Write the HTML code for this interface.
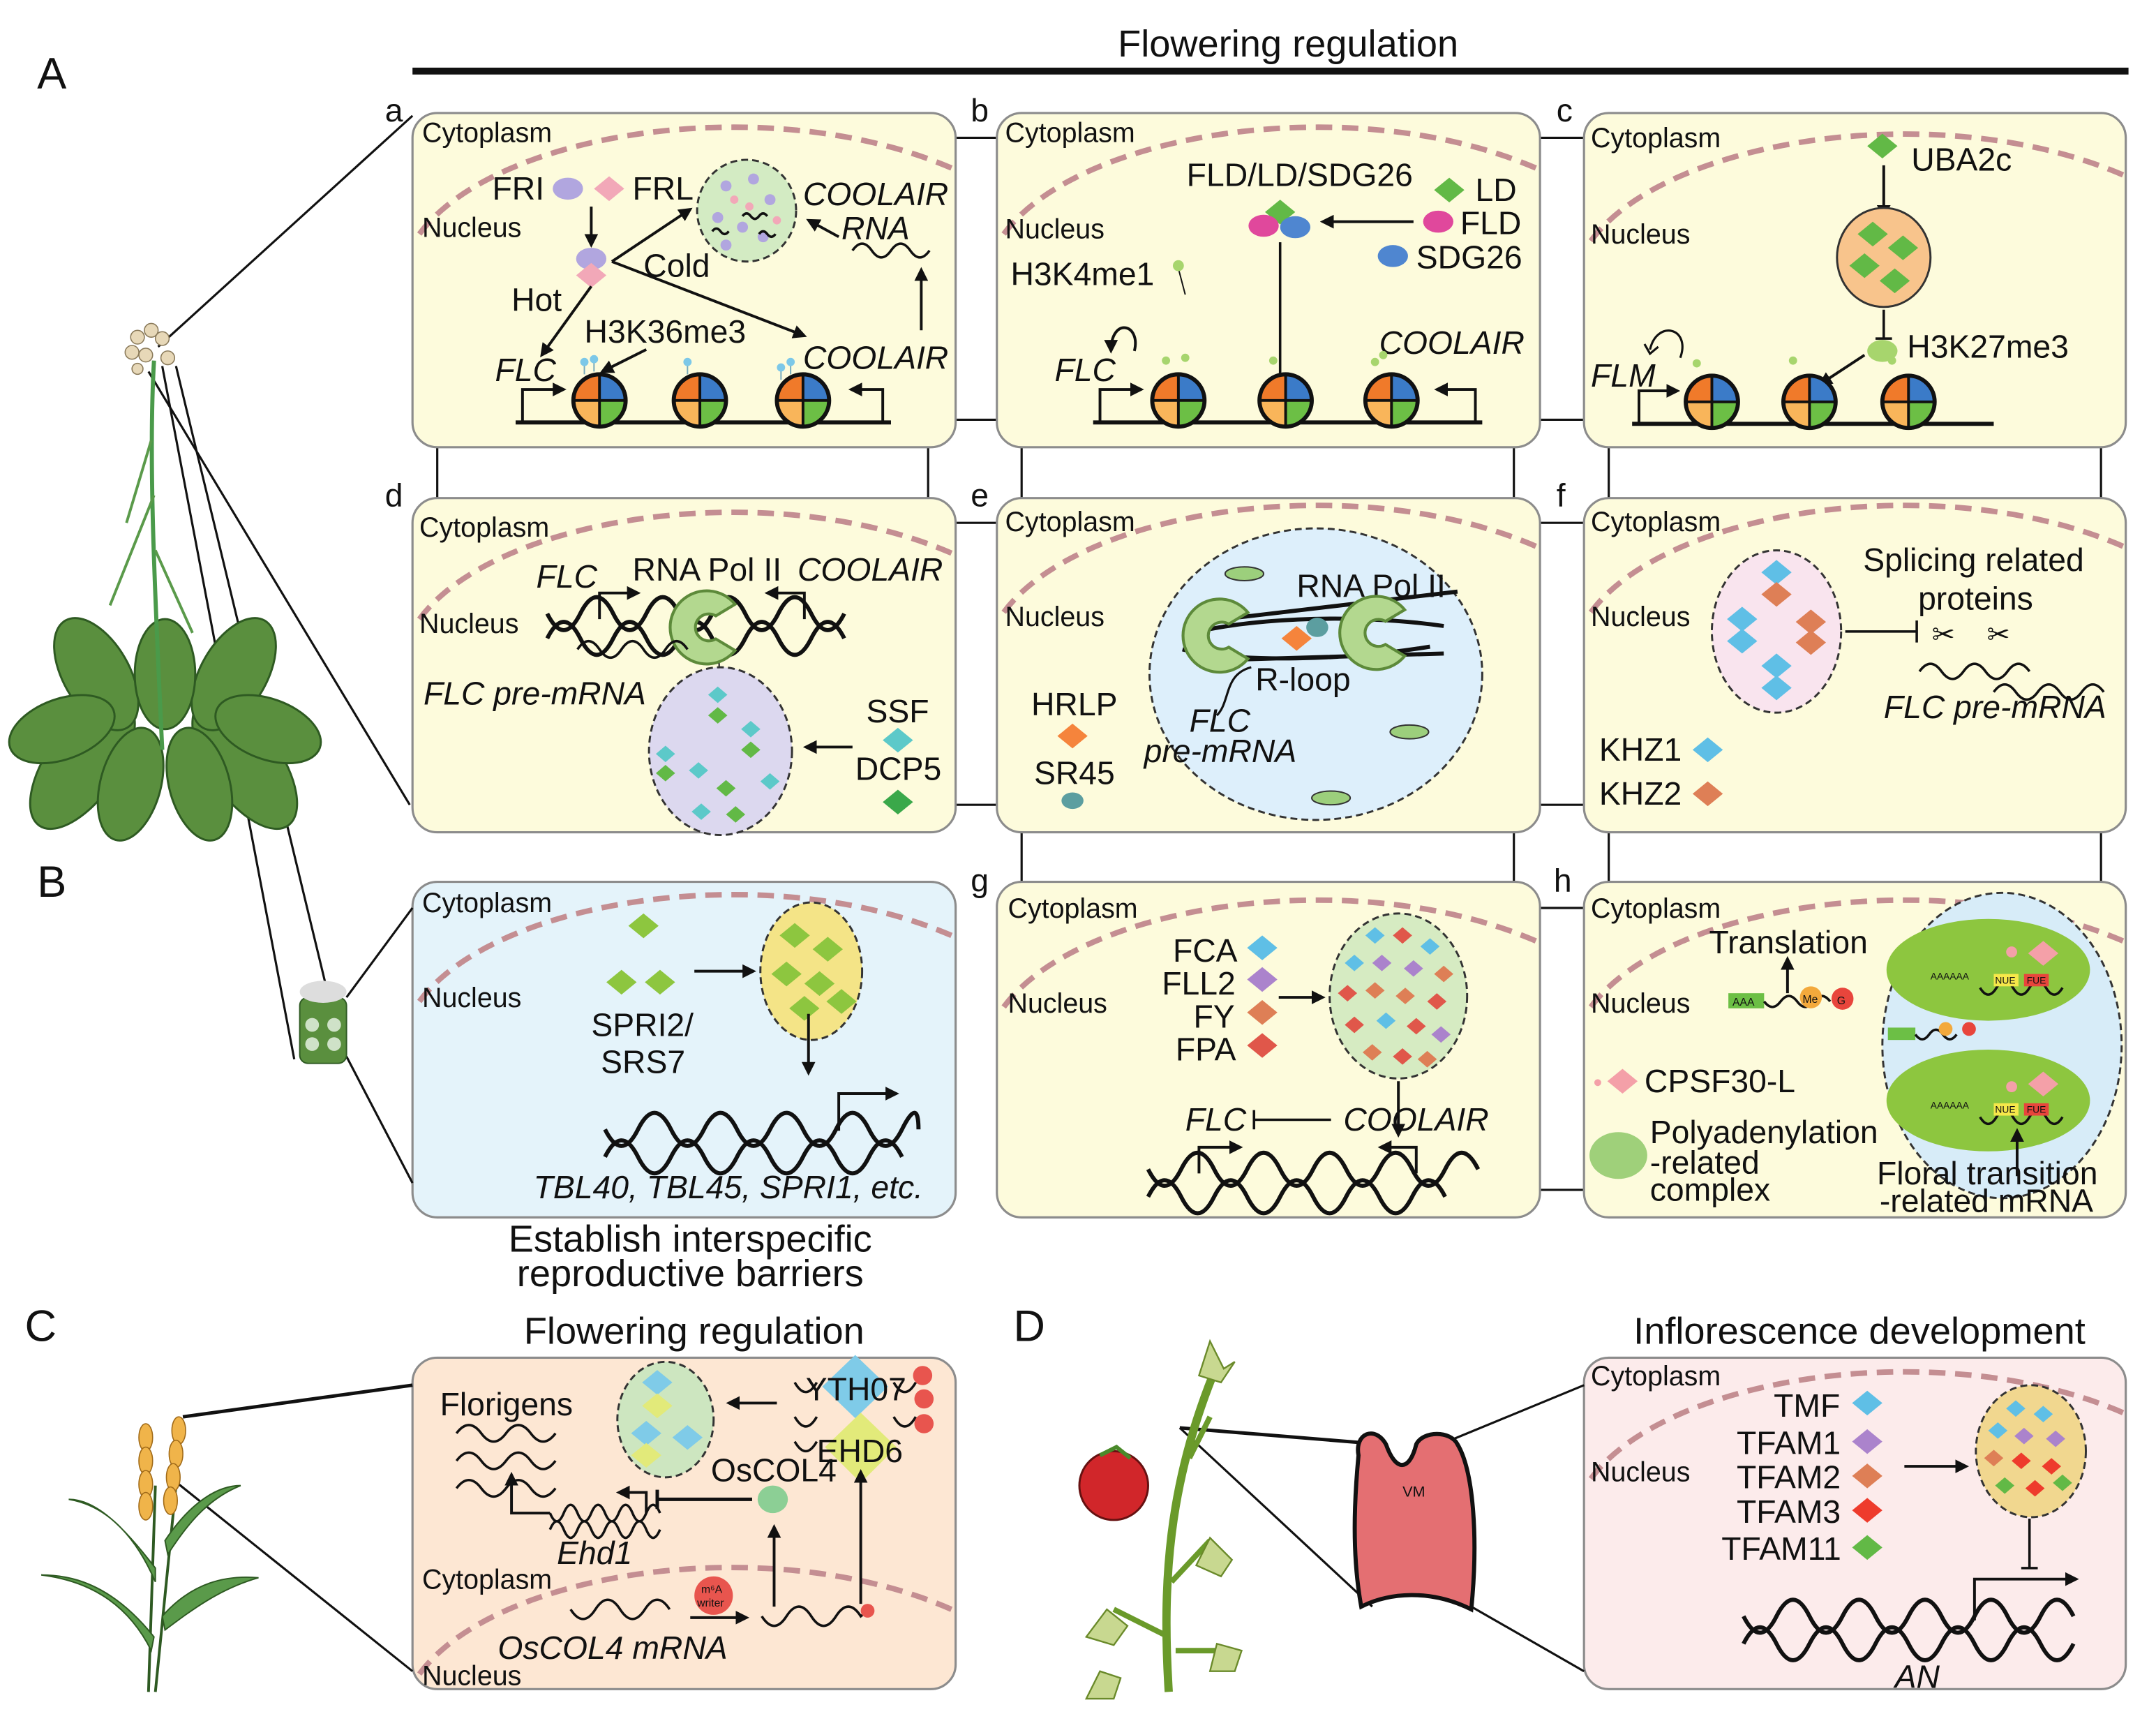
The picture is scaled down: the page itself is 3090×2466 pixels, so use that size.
<!DOCTYPE html>
<html><head><meta charset="utf-8"><style>
html,body{margin:0;padding:0;background:#fff}
svg{display:block}
text{font-family:"Liberation Sans",Arial,sans-serif;fill:#111}
.t{font-size:23.5px}.s{font-size:20px}.i{font-style:italic}.h{font-size:27.5px}.L{font-size:32px}
.pn{stroke:#8c8c8c;stroke-width:1.6}
.mem{fill:none;stroke:#c48e92;stroke-width:4;stroke-dasharray:12 7}
.ln{stroke:#111;stroke-width:1.6;fill:none}
.ar{stroke:#111;stroke-width:2;fill:none;marker-end:url(#ah)}
.w{fill:none;stroke:#111;stroke-width:1.8}
.dx{fill:none;stroke:#111;stroke-width:3}
.dr{stroke:#333;stroke-width:1.5;stroke-dasharray:5 3}
</style></head><body>
<svg width="3090" height="2466" viewBox="0 0 1568 1251" xmlns="http://www.w3.org/2000/svg">
<defs>
<marker id="ah" viewBox="0 0 10 10" refX="8" refY="5" markerWidth="5" markerHeight="5" orient="auto"><path d="M0,0 L10,5 L0,10 Z" fill="#111"/></marker>
<g id="nuc"><path d="M0,0 L0,-19 A19,19 0 0 0 -19,0 Z" fill="#f07a2a"/><path d="M0,0 L19,0 A19,19 0 0 0 0,-19 Z" fill="#3b7bc8"/><path d="M0,0 L-19,0 A19,19 0 0 0 0,19 Z" fill="#f9b55a"/><path d="M0,0 L0,19 A19,19 0 0 0 19,0 Z" fill="#6cbf45"/><circle r="19" fill="none" stroke="#111" stroke-width="3"/><path d="M0,-19V19M-19,0H19" stroke="#111" stroke-width="2"/></g>
<polygon id="dm" points="0,-9 11,0 0,9 -11,0"/>
<polygon id="dms" points="0,-6 7,0 0,6 -7,0"/>
<path id="pol" d="M14,-12 A19,19 0 1 0 14,12 L4,6 A7,7 0 1 1 4,-6 Z" fill="#b3d88f" stroke="#5d8a3a" stroke-width="1.5"/>
</defs>

<!-- Headers -->
<text x="813" y="41" class="h">Flowering regulation</text>
<rect x="300" y="49" width="1248" height="5" fill="#111"/>
<text x="27" y="64" class="L">A</text>
<text x="27" y="652" class="L">B</text>
<text x="18" y="975" class="L">C</text>
<text x="737" y="975" class="L">D</text>
<text x="381" y="977" class="h">Flowering regulation</text>
<text x="1188" y="977" class="h">Inflorescence development</text>
<text x="502" y="910" class="h" text-anchor="middle">Establish interspecific</text>
<text x="502" y="935" class="h" text-anchor="middle">reproductive barriers</text>

<!-- connectors between panels -->
<g class="ln" stroke-width="1.6">
<path d="M695,100H725M695,305H725M1120,100H1152M1120,305H1152"/>
<path d="M695,380H725M695,585H725M1120,380H1152M1120,585H1152"/>
<path d="M1120,660H1152M1120,865H1152"/>
<path d="M318,325V362M675,325V362M743,325V362M1101,325V362M1170,325V362M1528,325V362"/>
<path d="M743,605V641M1101,605V641M1170,605V641M1528,605V641"/>
</g>

<!-- panel backgrounds -->
<g class="pn">
<rect x="300" y="82" width="395" height="243" rx="18" fill="#fdfbdc"/>
<rect x="725" y="82" width="395" height="243" rx="18" fill="#fdfbdc"/>
<rect x="1152" y="82" width="394" height="243" rx="18" fill="#fdfbdc"/>
<rect x="300" y="362" width="395" height="243" rx="18" fill="#fdfbdc"/>
<rect x="725" y="362" width="395" height="243" rx="18" fill="#fdfbdc"/>
<rect x="1152" y="362" width="394" height="243" rx="18" fill="#fdfbdc"/>
<rect x="300" y="641" width="395" height="244" rx="18" fill="#e4f3fa"/>
<rect x="725" y="641" width="395" height="244" rx="18" fill="#fdfbdc"/>
<rect x="1152" y="641" width="394" height="244" rx="18" fill="#fdfbdc"/>
<rect x="300" y="987" width="395" height="241" rx="18" fill="#fde7d3"/>
<rect x="1152" y="987" width="394" height="241" rx="18" fill="#fcebeb"/>
</g>
<g class="t">
<text x="280" y="88">a</text><text x="706" y="88">b</text><text x="1132" y="88">c</text>
<text x="280" y="368">d</text><text x="706" y="368">e</text><text x="1132" y="368">f</text>
<text x="706" y="648">g</text><text x="1130" y="648">h</text>
</g>

<!-- membranes -->
<g class="mem">
<path d="M305,170 C360,95 560,65 692,122"/>
<path d="M730,170 C785,95 985,65 1117,122"/>
<path d="M1157,175 C1212,100 1412,70 1544,127"/>
<path d="M305,450 C360,375 560,345 692,402"/>
<path d="M730,445 C785,370 985,340 1117,397"/>
<path d="M1157,445 C1212,370 1412,340 1544,397"/>
<path d="M305,728 C360,653 560,623 692,680"/>
<path d="M730,732 C785,657 985,627 1117,684"/>
<path d="M1157,732 C1212,657 1412,627 1544,684"/>
<path d="M1157,1075 C1212,1000 1412,970 1544,1027"/>
<path d="M305,1217 C360,1142 560,1112 692,1170"/>
</g>
<g class="s">
<text x="307" y="103">Cytoplasm</text><text x="307" y="172">Nucleus</text>
<text x="731" y="103">Cytoplasm</text><text x="731" y="173">Nucleus</text>
<text x="1157" y="107">Cytoplasm</text><text x="1157" y="177">Nucleus</text>
<text x="305" y="390">Cytoplasm</text><text x="305" y="460">Nucleus</text>
<text x="731" y="386">Cytoplasm</text><text x="731" y="455">Nucleus</text>
<text x="1157" y="386">Cytoplasm</text><text x="1157" y="455">Nucleus</text>
<text x="307" y="663">Cytoplasm</text><text x="307" y="732">Nucleus</text>
<text x="733" y="667">Cytoplasm</text><text x="733" y="736">Nucleus</text>
<text x="1157" y="667">Cytoplasm</text><text x="1157" y="736">Nucleus</text>
<text x="1157" y="1007">Cytoplasm</text><text x="1157" y="1077">Nucleus</text>
<text x="307" y="1155">Cytoplasm</text><text x="307" y="1225">Nucleus</text>
</g>

<!-- ===== Panel a ===== -->
<ellipse cx="413" cy="137" rx="11" ry="8" fill="#b1a6df"/>
<use href="#dm" x="443" y="137" fill="#f2a8b8"/>
<text x="358" y="145" class="t">FRI</text><text x="460" y="145" class="t">FRL</text>
<ellipse cx="543" cy="153" rx="36" ry="37" fill="#d3ebc3" class="dr"/>
<g fill="#b1a6df"><circle cx="528" cy="135" r="4"/><circle cx="548" cy="130" r="4"/><circle cx="560" cy="145" r="4"/><circle cx="522" cy="158" r="4"/><circle cx="540" cy="165" r="4"/><circle cx="555" cy="172" r="4"/><circle cx="528" cy="178" r="4"/></g>
<g fill="#f2a8b8"><circle cx="534" cy="145" r="3"/><circle cx="565" cy="160" r="3"/><circle cx="545" cy="150" r="3"/></g>
<path class="w" stroke-width="1" d="M540,157 q3,-4 6,0 t6,0 t6,0 M552,170 q3,-4 6,0 t6,0 M518,168 q3,-4 6,0 t6,0"/>
<text x="584" y="149" class="t i">COOLAIR</text><text x="612" y="174" class="t i">RNA</text>
<path class="w" d="M620,182 q7,-10 14,0 t14,0 t14,0 t14,0"/>
<path class="ar" d="M670,240 V196"/>
<path class="ar" d="M610,172 L588,160"/>
<path class="ar" d="M430,150 V178"/>
<ellipse cx="430" cy="188" rx="11" ry="8" fill="#b1a6df"/><use href="#dm" x="430" y="200" fill="#f2a8b8"/>
<text x="468" y="201" class="t">Cold</text><text x="372" y="226" class="t">Hot</text>
<path class="ar" d="M445,190 L502,152"/><path class="ar" d="M445,190 L585,244"/>
<path class="ar" d="M430,208 L394,258"/>
<text x="425" y="249" class="t">H3K36me3</text>
<path class="ar" d="M470,254 L438,270"/>
<text x="360" y="277" class="t i">FLC</text><text x="584" y="268" class="t i">COOLAIR</text>
<path d="M375,307H648" stroke="#111" stroke-width="3"/>
<path class="ar" stroke-width="2.5" d="M380,307V283H410"/><path class="ar" stroke-width="2.5" d="M642,307V283H619"/>
<g stroke="#7ab" stroke-width="1"><path d="M425,272 v-8M432,270 v-8M500,272 v-8M575,272 v-8M568,276 v-8"/></g>
<g fill="#7cc8e8"><circle cx="425" cy="263" r="3"/><circle cx="432" cy="261" r="3"/><circle cx="500" cy="263" r="3"/><circle cx="575" cy="263" r="3"/><circle cx="568" cy="267" r="3"/></g>
<use href="#nuc" x="436" y="291"/><use href="#nuc" x="509" y="291"/><use href="#nuc" x="584" y="291"/>

<!-- ===== Panel b ===== -->
<text x="863" y="135" class="t">FLD/LD/SDG26</text>
<use href="#dm" x="1054" y="138" fill="#62b946"/><text x="1073" y="146" class="t">LD</text>
<ellipse cx="1046" cy="161" rx="11" ry="8" fill="#e0489c"/><text x="1062" y="170" class="t">FLD</text>
<ellipse cx="1013" cy="186" rx="11" ry="8" fill="#4f86d0"/><text x="1030" y="195" class="t">SDG26</text>
<use href="#dm" x="931" y="154" fill="#62b946"/>
<ellipse cx="919" cy="164" rx="11" ry="8" fill="#e0489c"/><ellipse cx="942" cy="165" rx="11" ry="8" fill="#4f86d0"/>
<path class="ar" stroke-width="2.5" d="M1028,161 H962"/>
<text x="735" y="207" class="t">H3K4me1</text>
<path d="M857,195 L862,214" stroke="#111" stroke-width="1"/><circle cx="857" cy="193" r="4" fill="#a7d56d"/>
<path d="M931,176V284M925,284H937" stroke="#111" stroke-width="1.8"/>
<text x="767" y="277" class="t i">FLC</text><text x="1003" y="257" class="t i">COOLAIR</text>
<path class="ar" d="M825,255 C830,235 808,230 808,255"/>
<path d="M795,307H1078" stroke="#111" stroke-width="3"/>
<path class="ar" stroke-width="2.5" d="M800,307V283H830"/><path class="ar" stroke-width="2.5" d="M1073,307V283H1045"/>
<g fill="#a7d56d"><circle cx="848" cy="262" r="3"/><circle cx="862" cy="260" r="3"/><circle cx="926" cy="262" r="3"/><circle cx="1000" cy="263" r="3"/><circle cx="1006" cy="258" r="3"/></g>
<use href="#nuc" x="857" y="291"/><use href="#nuc" x="935" y="291"/><use href="#nuc" x="1012" y="291"/>

<!-- ===== Panel c ===== -->
<use href="#dm" x="1369" y="106" fill="#62b946"/><text x="1390" y="124" class="t">UBA2c</text>
<path class="ar" d="M1370,120V157"/>
<ellipse cx="1370" cy="187" rx="34" ry="36" fill="#f8c48c" stroke="#333" stroke-width="1.5"/>
<g fill="#62b946"><use href="#dm" x="1362" y="170"/><use href="#dm" x="1384" y="180"/><use href="#dm" x="1356" y="193"/><use href="#dm" x="1378" y="204"/></g>
<path d="M1370,225V246M1364,246H1376" stroke="#111" stroke-width="1.8"/>
<ellipse cx="1369" cy="255" rx="11" ry="8" fill="#a7d56d"/><text x="1387" y="260" class="t">H3K27me3</text>
<path class="ar" d="M1356,258 L1324,279"/>
<text x="1157" y="281" class="t i">FLM</text>
<path d="M1222,260 C1230,238 1205,232 1200,254 M1196,250 L1200,257 L1206,252" class="ln"/>
<path d="M1187,308H1450" stroke="#111" stroke-width="3"/>
<path class="ar" stroke-width="2.5" d="M1192,308V284H1220"/>
<g fill="#a7d56d"><circle cx="1234" cy="264" r="3"/><circle cx="1304" cy="262" r="3"/><circle cx="1376" cy="262" r="3"/></g>
<use href="#nuc" x="1245" y="292"/><use href="#nuc" x="1316" y="292"/><use href="#nuc" x="1388" y="292"/>

<!-- ===== Panel d ===== -->
<text x="390" y="427" class="t i">FLC</text><text x="460" y="422" class="t">RNA Pol II</text><text x="580" y="422" class="t i">COOLAIR</text>
<path class="ar" stroke-width="2" d="M436,450V431H464"/><path class="ar" stroke-width="2" d="M585,450V431H558"/>
<path class="dx" d="M398,446 q12,24 24,0 t24,0 t24,0 t24,0 t24,0 t24,0 t24,0 t24,0 t24,0"/>
<path class="dx" d="M398,464 q12,-24 24,0 t24,0 t24,0 t24,0 t24,0 t24,0 t24,0 t24,0 t24,0"/>
<use href="#pol" transform="translate(515,456) scale(1.4)"/>
<path class="w" d="M420,472 q8,-12 16,0 t16,0 t16,0 t16,0 t16,0"/>
<text x="308" y="512" class="t i">FLC pre-mRNA</text>
<path d="M523,482V488" stroke="#111"/>
<ellipse cx="524" cy="546" rx="52" ry="61" fill="#dcd8ef" class="dr"/>
<g><use href="#dms" x="522" y="505" fill="#5cc9c9"/><use href="#dms" x="522" y="520" fill="#62b946"/><use href="#dms" x="546" y="530" fill="#5cc9c9"/><use href="#dms" x="546" y="545" fill="#62b946"/><use href="#dms" x="484" y="548" fill="#5cc9c9"/><use href="#dms" x="484" y="562" fill="#62b946"/><use href="#dms" x="508" y="560" fill="#5cc9c9"/><use href="#dms" x="528" y="573" fill="#62b946"/><use href="#dms" x="560" y="568" fill="#5cc9c9"/><use href="#dms" x="510" y="590" fill="#5cc9c9"/><use href="#dms" x="535" y="592" fill="#62b946"/></g>
<text x="630" y="525" class="t">SSF</text><use href="#dm" x="653" y="538" fill="#5cc9c9"/>
<text x="622" y="567" class="t">DCP5</text><use href="#dm" x="653" y="583" fill="#3aa84a"/>
<path class="ar" stroke-width="2.5" d="M620,543H586"/>

<!-- ===== Panel e ===== -->
<ellipse cx="957" cy="490" rx="121" ry="106" fill="#ddeffb" class="dr"/>
<text x="943" y="434" class="t">RNA Pol II</text>
<path d="M860,462 C900,450 980,445 1050,455 M860,472 C900,482 980,480 1040,470 M890,450 L1060,430 M880,480 L1050,475" stroke="#111" stroke-width="3" fill="none"/>
<use href="#pol" transform="translate(888,462) scale(1.4)"/>
<use href="#pol" transform="translate(1002,460) scale(1.4)"/>
<use href="#dm" x="943" y="464" fill="#f5843c"/><ellipse cx="958" cy="456" rx="8" ry="7" fill="#5c9ea0"/>
<text x="913" y="502" class="t">R-loop</text>
<path class="ln" d="M910,485 C890,490 895,510 885,520"/>
<text x="865" y="532" class="t i">FLC</text><text x="832" y="554" class="t i">pre-mRNA</text>
<g fill="#9ccf7c" stroke="#333" stroke-width="1"><ellipse cx="905" cy="417" rx="14" ry="5"/><ellipse cx="1025" cy="532" rx="14" ry="5"/><ellipse cx="968" cy="580" rx="14" ry="5"/></g>
<text x="750" y="520" class="t">HRLP</text><use href="#dm" x="780" y="535" fill="#f5843c"/>
<text x="752" y="570" class="t">SR45</text><ellipse cx="780" cy="582" rx="8" ry="6" fill="#5c9ea0"/>

<!-- ===== Panel f ===== -->
<ellipse cx="1292" cy="459" rx="47" ry="59" fill="#f9e4ee" class="dr"/>
<g><use href="#dm" x="1292" y="416" fill="#5fbfe6"/><use href="#dm" x="1292" y="432" fill="#de7f56"/><use href="#dm" x="1267" y="450" fill="#5fbfe6"/><use href="#dm" x="1317" y="452" fill="#de7f56"/><use href="#dm" x="1267" y="466" fill="#5fbfe6"/><use href="#dm" x="1317" y="467" fill="#de7f56"/><use href="#dm" x="1292" y="484" fill="#5fbfe6"/><use href="#dm" x="1292" y="500" fill="#5fbfe6"/></g>
<text x="1355" y="415" class="t">Splicing related</text><text x="1395" y="443" class="t">proteins</text>
<path d="M1342,459H1394M1394,451V467" stroke="#111" stroke-width="1.8"/>
<text x="1405" y="468" style="font-size:20px">✂</text><text x="1445" y="468" style="font-size:20px">✂</text>
<path class="w" d="M1396,488 q8,-11 16,0 t16,0 t16,0 t16,0 t16,0 M1450,503 q8,-11 16,0 t16,0 t16,0 t16,0 t16,0"/>
<text x="1370" y="522" class="t i">FLC pre-mRNA</text>
<text x="1163" y="553" class="t">KHZ1</text><use href="#dm" x="1242" y="545" fill="#5fbfe6"/>
<text x="1163" y="585" class="t">KHZ2</text><use href="#dm" x="1242" y="577" fill="#de7f56"/>

<!-- ===== Panel B ===== -->
<g fill="#8dc63f"><use href="#dm" x="468" y="673"/><use href="#dm" x="452" y="714"/><use href="#dm" x="480" y="714"/></g>
<path class="ar" stroke-width="2.5" d="M505,706H548"/>
<ellipse cx="590" cy="706" rx="37" ry="50" fill="#f4e487" class="dr"/>
<g fill="#8dc63f"><use href="#dm" x="578" y="680"/><use href="#dm" x="602" y="690"/><use href="#dm" x="572" y="708"/><use href="#dm" x="596" y="715"/><use href="#dm" x="612" y="728"/><use href="#dm" x="585" y="733"/></g>
<text x="430" y="753" class="t">SPRI2/</text><text x="437" y="780" class="t">SRS7</text>
<path class="ar" d="M588,737V780"/>
<path class="dx" d="M440,821 q12,24 24,0 t24,0 t24,0 t24,0 t24,0 t24,0 t24,0 t24,0 t24,0 t12,0"/>
<path class="dx" d="M440,841 q12,-24 24,0 t24,0 t24,0 t24,0 t24,0 t24,0 t24,0 t24,0 t24,0"/>
<path class="ar" stroke-width="2.5" d="M610,822V795H652"/>
<text x="388" y="871" class="t i">TBL40, TBL45, SPRI1, etc.</text>

<!-- ===== Panel g ===== -->
<text x="853" y="699" class="t">FCA</text><use href="#dm" x="918" y="689" fill="#5fbfe6"/>
<text x="845" y="723" class="t">FLL2</text><use href="#dm" x="918" y="712" fill="#ab83cc"/>
<text x="868" y="747" class="t">FY</text><use href="#dm" x="918" y="736" fill="#de7f56"/>
<text x="855" y="771" class="t">FPA</text><use href="#dm" x="918" y="760" fill="#e0574a"/>
<path class="ar" stroke-width="2.5" d="M930,725H962"/>
<ellipse cx="1017" cy="724" rx="50" ry="60" fill="#d6ebc2" class="dr"/>
<g>
<use href="#dms" x="1000" y="680" fill="#5fbfe6"/><use href="#dms" x="1020" y="680" fill="#e0574a"/><use href="#dms" x="1040" y="688" fill="#5fbfe6"/>
<use href="#dms" x="985" y="700" fill="#5fbfe6"/><use href="#dms" x="1005" y="700" fill="#ab83cc"/><use href="#dms" x="1028" y="704" fill="#ab83cc"/><use href="#dms" x="1050" y="708" fill="#de7f56"/>
<use href="#dms" x="980" y="722" fill="#e0574a"/><use href="#dms" x="1000" y="720" fill="#de7f56"/><use href="#dms" x="1022" y="724" fill="#de7f56"/><use href="#dms" x="1045" y="728" fill="#e0574a"/>
<use href="#dms" x="985" y="745" fill="#e0574a"/><use href="#dms" x="1008" y="742" fill="#5fbfe6"/><use href="#dms" x="1030" y="746" fill="#e0574a"/><use href="#dms" x="1048" y="752" fill="#ab83cc"/>
<use href="#dms" x="998" y="765" fill="#de7f56"/><use href="#dms" x="1020" y="768" fill="#e0574a"/><use href="#dms" x="1038" y="770" fill="#de7f56"/>
</g>
<path class="ar" d="M1017,786V825"/>
<text x="862" y="822" class="t i">FLC</text><path d="M912,814H968M912,807V821" stroke="#111" stroke-width="1.8"/><text x="977" y="822" class="t i">COOLAIR</text>
<path class="ar" stroke-width="2" d="M872,853V834H902"/><path class="ar" stroke-width="2" d="M1030,853V834H1004"/>
<path class="dx" d="M835,850 q12,24 24,0 t24,0 t24,0 t24,0 t24,0 t24,0 t24,0 t24,0 t24,0 t24,0"/>
<path class="dx" d="M835,870 q12,-24 24,0 t24,0 t24,0 t24,0 t24,0 t24,0 t24,0 t24,0 t24,0"/>

<!-- ===== Panel h ===== -->
<text x="1243" y="693" class="t">Translation</text>
<path class="ar" d="M1300,722V697"/>
<rect x="1257" y="722" width="26" height="11" fill="#6cbf45"/><text x="1260" y="731" style="font-size:8px">AAA</text>
<path class="w" d="M1283,728 q6,8 12,0 t12,0 t12,0 t12,0"/>
<circle cx="1317" cy="725" r="8" fill="#f3a93c"/><text x="1311" y="729" style="font-size:8px">Me</text>
<circle cx="1340" cy="726" r="8" fill="#e8453c"/><text x="1336" y="730" style="font-size:8px">G</text>
<ellipse cx="1456" cy="760" rx="87" ry="111" fill="#d7ecf8" class="dr"/>
<ellipse cx="1446" cy="705" rx="74" ry="37" fill="#8dc63f"/>
<ellipse cx="1446" cy="800" rx="74" ry="37" fill="#8dc63f"/>
<g class="w" stroke-width="1.5"><path d="M1440,718 q6,10 12,0 t12,0 t12,0 t12,0 t12,0"/><path d="M1440,812 q6,10 12,0 t12,0 t12,0 t12,0 t12,0"/></g>
<g style="font-size:7px"><rect x="1450" y="708" width="18" height="9" fill="#f6e84a"/><text x="1451" y="715">NUE</text><rect x="1472" y="708" width="18" height="9" fill="#e8453c"/><text x="1474" y="715">FUE</text>
<rect x="1450" y="802" width="18" height="9" fill="#f6e84a"/><text x="1451" y="809">NUE</text><rect x="1472" y="802" width="18" height="9" fill="#e8453c"/><text x="1474" y="809">FUE</text>
<text x="1404" y="712">AAAAAA</text><text x="1404" y="806">AAAAAA</text></g>
<use href="#dm" x="1486" y="693" fill="#f4a0a8"/><circle cx="1463" cy="692" r="4" fill="#f4a0a8"/>
<use href="#dm" x="1486" y="788" fill="#f4a0a8"/><circle cx="1463" cy="790" r="4" fill="#f4a0a8"/>
<rect x="1373" y="747" width="20" height="9" fill="#6cbf45"/><path class="w" stroke-width="1.2" d="M1393,752 q5,7 10,0 t10,0 t10,0"/>
<circle cx="1415" cy="748" r="5" fill="#f3a93c"/><circle cx="1432" cy="748" r="5" fill="#e8453c"/>
<path class="ar" d="M1467,855V822"/>
<circle cx="1162" cy="787" r="2.5" fill="#f4a0a8"/><use href="#dm" x="1180" y="786" fill="#f4a0a8"/>
<text x="1196" y="794" class="t">CPSF30-L</text>
<ellipse cx="1177" cy="840" rx="21" ry="17" fill="#9fd07a"/>
<text x="1200" y="831" class="t">Polyadenylation</text><text x="1200" y="853" class="t">-related</text><text x="1200" y="873" class="t">complex</text>
<text x="1365" y="861" class="t">Floral transition</text><text x="1367" y="881" class="t">-related mRNA</text>

<!-- ===== Panel C ===== -->
<text x="320" y="1029" class="t">Florigens</text>
<path class="w" d="M332,1042 q9,-12 18,0 t18,0 t18,0 t18,0 M332,1062 q9,-12 18,0 t18,0 t18,0 t18,0 M332,1082 q9,-12 18,0 t18,0 t18,0 t18,0"/>
<ellipse cx="484" cy="1032" rx="35" ry="42" fill="#cde6c0" class="dr"/>
<g><use href="#dm" x="478" y="1005" fill="#7fcbe8"/><use href="#dm" x="478" y="1022" fill="#e2ea7a"/><use href="#dm" x="470" y="1042" fill="#7fcbe8"/><use href="#dm" x="470" y="1058" fill="#e2ea7a"/><use href="#dm" x="500" y="1045" fill="#7fcbe8"/></g>
<path class="ar" stroke-width="2.5" d="M565,1020H530"/>
<polygon points="622,985 646,1008 622,1031 598,1008" fill="#7fcbe8"/>
<polygon points="626,1027 652,1052 626,1078 600,1052" fill="#e2ea7a"/>
<path class="w" d="M578,1005 q8,14 16,0 M578,1030 q8,14 16,0 M578,1048 q8,14 16,0 M650,1005 q8,14 16,0 M650,1030 q8,14 16,0"/>
<text x="586" y="1018" class="t">YTH07</text><text x="594" y="1063" class="t">EHD6</text>
<g fill="#e8554e"><circle cx="671" cy="1000" r="7"/><circle cx="672" cy="1017" r="7"/><circle cx="672" cy="1035" r="7"/></g>
<text x="517" y="1077" class="t">OsCOL4</text>
<ellipse cx="562" cy="1090" rx="11" ry="10" fill="#8ccf95"/>
<path d="M547,1090H478M478,1083V1097" stroke="#111" stroke-width="2.5"/>
<path class="ar" stroke-width="2.5" d="M470,1100V1085H450"/>
<path class="ar" stroke-width="2.5" d="M400,1100H372V1072"/>
<path class="w" stroke-width="1.5" d="M400,1100 q5,12 10,0 t10,0 t10,0 t10,0 t10,0 t10,0 t10,0 t10,0 M400,1112 q5,-12 10,0 t10,0 t10,0 t10,0 t10,0 t10,0 t10,0 t10,0"/>
<text x="405" y="1137" class="t i">Ehd1</text>
<circle cx="519" cy="1160" r="14" fill="#e8554e"/><text x="510" y="1158" style="font-size:8px">m⁶A</text><text x="507" y="1168" style="font-size:8px">writer</text>
<path class="w" d="M415,1170 q9,14 18,0 t18,0 t18,0 t18,0"/>
<path class="ar" stroke-width="2.5" d="M502,1176H543"/>
<path class="w" d="M554,1175 q9,14 18,0 t18,0 t18,0 t18,0 L630,1172"/>
<circle cx="631" cy="1171" r="5" fill="#e8554e"/>
<path class="ar" d="M563,1168V1110"/><path class="ar" d="M626,1166V1070"/>
<text x="362" y="1206" class="t i">OsCOL4 mRNA</text>

<!-- ===== Panel D ===== -->
<text x="1290" y="1030" class="t">TMF</text><use href="#dm" x="1358" y="1020" fill="#5fbfe6"/>
<text x="1263" y="1057" class="t">TFAM1</text><use href="#dm" x="1358" y="1048" fill="#ab83cc"/>
<text x="1263" y="1082" class="t">TFAM2</text><use href="#dm" x="1358" y="1073" fill="#de7f56"/>
<text x="1263" y="1107" class="t">TFAM3</text><use href="#dm" x="1358" y="1098" fill="#ee3b2c"/>
<text x="1252" y="1134" class="t">TFAM11</text><use href="#dm" x="1358" y="1125" fill="#62b946"/>
<path class="ar" stroke-width="2.5" d="M1385,1066H1430"/>
<ellipse cx="1477" cy="1055" rx="40" ry="48" fill="#f1d78f" class="dr"/>
<g><use href="#dms" x="1466" y="1024" fill="#5fbfe6"/><use href="#dms" x="1486" y="1028" fill="#5fbfe6"/><use href="#dms" x="1453" y="1040" fill="#5fbfe6"/><use href="#dms" x="1472" y="1044" fill="#ab83cc"/><use href="#dms" x="1495" y="1046" fill="#ab83cc"/><use href="#dms" x="1450" y="1060" fill="#de7f56"/><use href="#dms" x="1470" y="1062" fill="#ee3b2c"/><use href="#dms" x="1492" y="1066" fill="#ee3b2c"/><use href="#dms" x="1458" y="1080" fill="#62b946"/><use href="#dms" x="1480" y="1082" fill="#ee3b2c"/><use href="#dms" x="1500" y="1078" fill="#62b946"/></g>
<path d="M1476,1104V1140M1470,1140H1482" stroke="#111" stroke-width="1.8"/>
<path class="ar" stroke-width="2.5" d="M1436,1178V1148H1510"/>
<path class="dx" d="M1268,1175 q12,24 24,0 t24,0 t24,0 t24,0 t24,0 t24,0 t24,0 t24,0 t24,0 t24,0"/>
<path class="dx" d="M1268,1195 q12,-24 24,0 t24,0 t24,0 t24,0 t24,0 t24,0 t24,0 t24,0 t24,0 t24,0"/>
<text x="1378" y="1227" class="t i">AN</text>

<!-- ===== Arabidopsis plant ===== -->
<g class="ln" stroke-width="1.4">
<path d="M115,252 L300,84"/>
<path d="M108,270 L298,585"/>
<path d="M118,266 L214,770"/>
<path d="M128,266 L250,770"/>
<path d="M252,725 L300,660"/>
<path d="M252,768 L300,860"/>
</g>
<g fill="#5a8f3e" stroke="#2e5a22" stroke-width="1.5">
<ellipse cx="60" cy="555" rx="55" ry="26" transform="rotate(-55 60 555)"/>
<ellipse cx="178" cy="555" rx="55" ry="26" transform="rotate(55 178 555)"/>
<ellipse cx="70" cy="490" rx="45" ry="24" transform="rotate(60 70 490)"/>
<ellipse cx="170" cy="490" rx="45" ry="24" transform="rotate(-60 170 490)"/>
<ellipse cx="45" cy="530" rx="40" ry="22" transform="rotate(-20 45 530)"/>
<ellipse cx="195" cy="530" rx="40" ry="22" transform="rotate(20 195 530)"/>
<ellipse cx="95" cy="570" rx="42" ry="22" transform="rotate(-75 95 570)"/>
<ellipse cx="145" cy="570" rx="42" ry="22" transform="rotate(75 145 570)"/>
<ellipse cx="120" cy="490" rx="22" ry="40"/>
</g>
<path d="M112,262 C108,330 112,420 118,545" stroke="#4a9a4a" stroke-width="3" fill="none"/>
<path d="M110,320 L92,380 M112,360 L80,440 M113,400 L140,460" stroke="#5a9a4a" stroke-width="2" fill="none"/>
<g fill="#e7d8b8" stroke="#8a7a5a" stroke-width="0.8"><circle cx="100" cy="245" r="5"/><circle cx="110" cy="240" r="5"/><circle cx="118" cy="246" r="5"/><circle cx="96" cy="256" r="5"/><circle cx="106" cy="258" r="5"/><circle cx="122" cy="260" r="5"/><circle cx="100" cy="268" r="4"/></g>
<!-- B flower icon -->
<g transform="translate(235,745)">
<rect x="-17" y="-20" width="34" height="48" rx="6" fill="#5a8f3e" stroke="#2e5a22"/>
<ellipse cx="0" cy="-24" rx="17" ry="8" fill="#ddd"/>
<circle cx="-8" cy="0" r="5" fill="#cfe2c8"/><circle cx="8" cy="0" r="5" fill="#cfe2c8"/><circle cx="-8" cy="14" r="5" fill="#cfe2c8"/><circle cx="8" cy="14" r="5" fill="#cfe2c8"/>
</g>

<!-- ===== Rice ===== -->
<g class="ln" stroke-width="1.4"><path d="M133,1030 L300,1007" stroke-width="2.5"/><path d="M125,1075 L300,1215"/></g>
<path d="M108,1230 L113,1080 M113,1230 L128,1080" stroke="#2e5a22" stroke-width="2" fill="none"/>
<g fill="#5a9a4a" stroke="#2e5a22" stroke-width="1"><path d="M113,1140 C90,1110 70,1090 50,1090 C80,1095 100,1120 113,1150Z"/><path d="M120,1120 C140,1090 160,1080 175,1080 C150,1090 135,1110 122,1130Z"/><path d="M112,1190 C80,1150 50,1145 30,1145 C70,1150 95,1170 110,1200Z"/><path d="M118,1175 C140,1150 165,1145 188,1147 C160,1155 140,1170 120,1185Z"/></g>
<g fill="#f0b44a" stroke="#a06a18" stroke-width="0.8"><ellipse cx="106" cy="1045" rx="5" ry="10"/><ellipse cx="106" cy="1062" rx="5" ry="10"/><ellipse cx="106" cy="1079" rx="5" ry="10"/><ellipse cx="106" cy="1095" rx="5" ry="10"/><ellipse cx="130" cy="1040" rx="5" ry="10"/><ellipse cx="128" cy="1057" rx="5" ry="10"/><ellipse cx="126" cy="1074" rx="5" ry="10"/><ellipse cx="124" cy="1091" rx="5" ry="10"/></g>

<!-- ===== Tomato ===== -->
<g class="ln" stroke-width="1.4"><path d="M858,1038 L1005,1050" stroke-width="2.5"/><path d="M858,1038 L998,1168"/><path d="M1055,1047 L1152,1007"/><path d="M1070,1168 L1152,1215"/></g>
<path d="M850,1230 C845,1150 850,1080 882,1000" stroke="#6a9a2a" stroke-width="6" fill="none"/>
<path d="M852,1150 L880,1120 M850,1190 L810,1170 M855,1200 L885,1200 M865,1060 L880,1030" stroke="#6a9a2a" stroke-width="4" fill="none"/>
<g fill="#c8d890" stroke="#6a8a2a" stroke-width="1.2"><path d="M880,975 l-8,25 l16,5 l10,-15 l-8,5Z"/><path d="M880,1118 l-10,20 l18,8 l8,-12Z"/><path d="M805,1170 l-15,20 l20,6 l10,-14Z"/><path d="M885,1195 l-5,20 l18,0 l5,-15Z"/><path d="M800,1215 l-10,20 l20,0 l5,-15Z"/></g>
<circle cx="810" cy="1080" r="25" fill="#d1262a" stroke="#611" stroke-width="1.5"/>
<path d="M800,1058 L812,1052 L822,1060" stroke="#4a8a2a" stroke-width="3" fill="none"/>
<path d="M988,1058 C985,1042 1000,1036 1008,1050 C1015,1070 1025,1070 1030,1050 C1035,1040 1055,1040 1060,1050 C1072,1070 1075,1120 1070,1170 C1040,1155 1010,1158 990,1168 C983,1130 985,1090 988,1058Z" fill="#e46f72" stroke="#111" stroke-width="3"/>
<text x="1020" y="1088" style="font-size:11px">VM</text>
</svg>
</body></html>
